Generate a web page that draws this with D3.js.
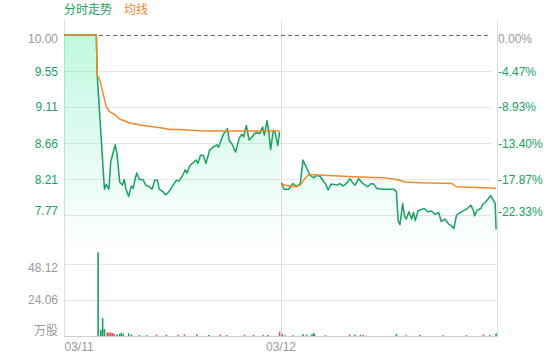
<!DOCTYPE html>
<html><head><meta charset="utf-8">
<script src="https://cdn.jsdelivr.net/npm/d3@7/dist/d3.min.js"></script>
<style>body{margin:0;background:#fff}svg{display:block}</style>
</head><body><svg id="c" width="560" height="360"></svg>
<script>
// ---------------- data ----------------
const legendLabels = ["分时走势", "均线"];
const priceTicks = [10.00, 9.55, 9.11, 8.66, 8.21, 7.77];
const pctTicks = ["0.00%", "-4.47%", "-8.93%", "-13.40%", "-17.87%", "-22.33%"];
const volTicks = [48.12, 24.06];
const volUnit = "万股";
const dayLabels = ["03/11", "03/12"];
const dayStarts = [0, 241];
const totalMinutes = 482;

// [minute index, price]
const priceDay1 = [[0,10.00],[36,10.00],[37,9.50],[45,8.09],[47,8.15],[50,8.09],[52,8.43],[57,8.64],[59,8.53],[62,8.18],[65,8.14],[67,8.21],[69,8.09],[72,8.00],[75,8.13],[77,8.10],[79,8.21],[81,8.29],[84,8.21],[88,8.21],[91,8.14],[95,8.12],[98,8.09],[101,8.20],[104,8.20],[106,8.09],[110,8.06],[113,8.02],[117,8.06],[121,8.13],[125,8.20],[128,8.19],[132,8.26],[135,8.33],[137,8.29],[140,8.38],[144,8.42],[147,8.45],[149,8.41],[152,8.51],[155,8.51],[158,8.41],[162,8.57],[166,8.61],[170,8.64],[172,8.61],[176,8.73],[178,8.78],[182,8.84],[184,8.69],[187,8.65],[191,8.55],[195,8.72],[198,8.77],[200,8.74],[203,8.88],[206,8.70],[209,8.73],[212,8.78],[215,8.79],[218,8.78],[221,8.86],[223,8.76],[226,8.94],[228,8.80],[230,8.58],[233,8.82],[235,8.79],[238,8.63],[240,8.80]];
const priceDay2 = [[242,8.17],[245,8.09],[250,8.09],[255,8.16],[259,8.12],[263,8.16],[266,8.45],[269,8.38],[274,8.26],[278,8.23],[281,8.26],[285,8.25],[288,8.20],[291,8.16],[294,8.08],[297,8.15],[300,8.15],[304,8.14],[307,8.16],[311,8.13],[316,8.18],[318,8.22],[322,8.16],[324,8.14],[328,8.22],[331,8.18],[334,8.15],[338,8.12],[342,8.16],[345,8.15],[348,8.10],[354,8.09],[361,8.09],[367,8.09],[370,8.06],[372,7.70],[374,7.65],[377,7.91],[379,7.76],[381,7.72],[384,7.81],[387,7.72],[389,7.80],[391,7.70],[394,7.82],[398,7.84],[401,7.85],[405,7.81],[409,7.82],[413,7.78],[417,7.80],[420,7.69],[424,7.72],[428,7.66],[432,7.63],[434,7.60],[437,7.77],[441,7.80],[444,7.82],[449,7.85],[453,7.89],[456,7.82],[457,7.76],[460,7.83],[464,7.85],[466,7.90],[470,7.94],[475,8.01],[478,7.95],[480,7.91],[481,7.59]];
const avgDay1 = [[0,10.00],[36,10.00],[37,9.50],[40,9.44],[47,9.11],[51,9.05],[57,9.01],[62,8.96],[73,8.91],[88,8.88],[107,8.85],[118,8.83],[129,8.83],[155,8.81],[193,8.81],[240,8.81]];
const avgDay2 = [[242,8.16],[246,8.14],[257,8.12],[263,8.14],[268,8.22],[272,8.27],[279,8.27],[294,8.26],[328,8.24],[357,8.23],[370,8.21],[380,8.18],[396,8.17],[432,8.16],[437,8.12],[481,8.10]];

// volume: minute, value (万股), rise flag (1 = red, 0 = green)
const volMinutes = [38,41,43,45,48,50,52,54,56,59,62,64,66,72,75,84,92,103,114,127,134,148,161,174,181,201,211,222,227,240,243,246,255,266,270,276,278,279,291,318,324,330,333,370,381,396,422,448,467,474,481];
const volValues  = [55.9,4.0,12.0,4.7,2.2,2.4,2.2,2.0,1.5,1.0,1.5,2.2,1.2,1.8,1.0,0.6,0.6,0.9,0.8,0.8,1.0,1.2,0.7,1.0,0.6,0.8,0.8,0.8,0.7,2.9,1.2,0.6,0.5,1.2,0.8,1.2,2.0,1.0,0.5,1.0,0.9,0.8,0.8,1.5,0.5,0.8,0.5,0.5,1.0,0.6,1.8];
const volRise    = [0,0,0,0,1,1,1,1,1,0,0,0,0,0,0,0,0,1,0,1,1,1,0,1,1,1,1,1,0,1,0,1,0,0,0,0,0,0,0,1,0,0,1,0,0,0,0,0,1,0,0];

// ---------------- styles ----------------
const GREEN = "#17a25f", ORANGE = "#f0892a", GRAY = "#999", GRID = "#e6e6e6", BORDER = "#dddddd", RED = "#e8505b";
const FONT = "'Liberation Sans', Arial, 'Noto Sans CJK SC', sans-serif";
const L = 64, R = 497, PR = 491, TOP = 20, PBOT = 250, VBOT = 336;

const svg = d3.select("#c").style("font-family", FONT);

const x = d3.scaleLinear().domain([0, totalMinutes]).range([L, R]);
const y = d3.scaleLinear().domain([priceTicks[priceTicks.length-1], priceTicks[0]]).range([215, 35]);
const yv = d3.scaleLinear().domain([0, volTicks[0]]).range([VBOT, 264]);

// gradient
const defs = svg.append("defs");
const grad = defs.append("linearGradient").attr("id","g").attr("gradientUnits","userSpaceOnUse")
  .attr("x1",0).attr("x2",0).attr("y1",35).attr("y2",PBOT);
grad.append("stop").attr("offset","0").attr("stop-color","#2ee59a").attr("stop-opacity",0.3);
grad.append("stop").attr("offset","1").attr("stop-color","#2ee59a").attr("stop-opacity",0.0);

// grid lines price
svg.append("g").selectAll("line").data(priceTicks.slice(1)).join("line")
  .attr("x1", L).attr("x2", PR).attr("y1", d => Math.round(y(d))+0.5).attr("y2", d => Math.round(y(d))+0.5)
  .attr("stroke", GRID).attr("stroke-width", 1);
// grid lines volume
svg.append("g").selectAll("line").data(volTicks).join("line")
  .attr("x1", L).attr("x2", R).attr("y1", d => Math.round(yv(d))+0.5).attr("y2", d => Math.round(yv(d))+0.5)
  .attr("stroke", GRID).attr("stroke-width", 1);

// vertical borders & day separator
const vlines = [0, dayStarts[1], totalMinutes];
svg.append("g").selectAll("line").data(vlines).join("line")
  .attr("x1", d => Math.round(x(d))+0.5).attr("x2", d => Math.round(x(d))+0.5)
  .attr("y1", TOP).attr("y2", VBOT).attr("stroke", BORDER);
// bottom axis line
svg.append("line").attr("x1", L).attr("x2", R+0.5).attr("y1", VBOT+0.5).attr("y2", VBOT+0.5).attr("stroke", "#cccccc");

// area
const area = d3.area().x(d => x(d[0])).y0(PBOT).y1(d => y(d[1]));
[priceDay1, priceDay2].forEach(arr => svg.append("path").datum(arr).attr("d", area).attr("fill", "url(#g)"));

// previous close dashed
svg.append("line").attr("x1", L).attr("x2", PR).attr("y1", Math.round(y(priceTicks[0]))+0.5).attr("y2", Math.round(y(priceTicks[0]))+0.5)
  .attr("stroke", "#666").attr("stroke-dasharray", "4,3").attr("stroke-width", 1);

const line = d3.line().x(d => x(d[0])).y(d => y(d[1]));
[priceDay1, priceDay2].forEach(arr => svg.append("path").datum(arr).attr("d", line)
  .attr("fill","none").attr("stroke", GREEN).attr("stroke-width", 1.5).attr("stroke-linejoin","round"));
[avgDay1, avgDay2].forEach(arr => svg.append("path").datum(arr).attr("d", line)
  .attr("fill","none").attr("stroke", ORANGE).attr("stroke-width", 1.5).attr("stroke-linejoin","round"));

// volume bars
svg.append("g").selectAll("rect").data(volMinutes.map((m,i)=>({m, v: volValues[i], r: volRise[i]}))).join("rect")
  .attr("x", d => x(d.m) - 0.8).attr("width", 1.6)
  .attr("y", d => yv(d.v)).attr("height", d => VBOT - yv(d.v))
  .attr("fill", d => d.r ? RED : GREEN);

// axes
function styleAxis(g, colors, edgeShift) {
  g.select(".domain").remove();
  g.selectAll(".tick line").remove();
  g.selectAll(".tick text").attr("font-size", 12).attr("font-family", FONT)
    .attr("fill", (d,i) => colors(i))
    .attr("dy", (d,i,n) => {
      const s = edgeShift(i, n.length);
      return (0.32 + s/12) + "em";
    });
}
const leftAx = svg.append("g").attr("transform", `translate(${L},0)`)
  .call(d3.axisLeft(y).tickValues(priceTicks).tickFormat(d3.format(".2f")).tickSize(0).tickPadding(6));
styleAxis(leftAx, i => i === 0 ? GRAY : GREEN, (i,n) => i === 0 ? 3.5 : (i === n-1 ? -4 : 0));

const rightAx = svg.append("g").attr("transform", `translate(${R},0)`)
  .call(d3.axisRight(y).tickValues(priceTicks).tickFormat((d,i) => pctTicks[i]).tickSize(0).tickPadding(1));
styleAxis(rightAx, i => i === 0 ? GRAY : GREEN, (i,n) => i === 0 ? 4 : (i === n-1 ? -3.5 : 0));

const volAx = svg.append("g").attr("transform", `translate(${L},0)`)
  .call(d3.axisLeft(yv).tickValues([...volTicks, 0]).tickFormat((d,i) => i < volTicks.length ? d3.format(".2f")(d) : volUnit).tickSize(0).tickPadding(6));
styleAxis(volAx, () => GRAY, (i,n) => i === 0 ? 3.5 : (i === n-1 ? -5 : 0));

const xAx = svg.append("g").attr("transform", `translate(0,${VBOT})`)
  .call(d3.axisBottom(x).tickValues(dayStarts).tickFormat((d,i) => dayLabels[i]).tickSize(0).tickPadding(6));
xAx.select(".domain").remove();
xAx.selectAll(".tick text").attr("font-size", 12).attr("font-family", FONT).attr("fill", GRAY)
  .attr("text-anchor", (d,i) => i === 0 ? "start" : "middle");

// legend
const leg = svg.append("g").attr("font-size", 12).attr("font-family", "'Noto Sans CJK SC', sans-serif");
leg.append("text").attr("x", 64).attr("y", 14).attr("fill", GREEN).text(legendLabels[0]);
leg.append("text").attr("x", 124).attr("y", 14).attr("fill", ORANGE).text(legendLabels[1]);
</script></body></html>
